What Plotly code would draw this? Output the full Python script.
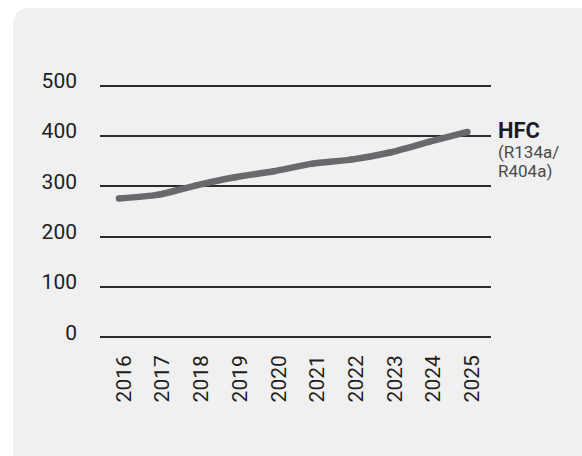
import plotly.graph_objects as go

# Refrigerant demand series (HFC: R134a / R404a)
years = ["2016", "2017", "2018", "2019", "2020", "2021", "2022", "2023", "2024", "2025"]
hfc_values = [276, 283, 302, 318, 330, 345, 353, 367, 388, 408]
y_ticks = [0, 100, 200, 300, 400, 500]
series_name = "HFC"
series_note_lines = ["(R134a/", "R404a)"]

W, H = 582, 456
M_L, M_R, M_T, M_B = 100, 91, 83, 116
PW, PH = W - M_L - M_R, H - M_T - M_B


def px(x):
    return (x - M_L) / PW


def py(y):
    return (H - M_B - y) / PH


def rounded_rect(l, t, r, b, rad):
    return (
        f"M {px(l + rad)} {py(t)} L {px(r - rad)} {py(t)} "
        f"Q {px(r)} {py(t)} {px(r)} {py(t + rad)} "
        f"L {px(r)} {py(b - rad)} Q {px(r)} {py(b)} {px(r - rad)} {py(b)} "
        f"L {px(l + rad)} {py(b)} Q {px(l)} {py(b)} {px(l)} {py(b - rad)} "
        f"L {px(l)} {py(t + rad)} Q {px(l)} {py(t)} {px(l + rad)} {py(t)} Z"
    )


FONT = "Roboto"
LINE_GREY = "#69696d"

fig = go.Figure()
fig.add_trace(
    go.Scatter(
        x=years,
        y=hfc_values,
        mode="lines+markers",
        line=dict(color=LINE_GREY, width=6.5, shape="spline", smoothing=0.6),
        marker=dict(color=LINE_GREY, size=6.5),
        hoverinfo="skip",
        showlegend=False,
    )
)

fig.add_shape(
    type="path",
    xref="paper",
    yref="paper",
    path=rounded_rect(13, 8, 620, 490, 18),
    fillcolor="#f0f0f0",
    line=dict(width=0),
    layer="below",
)

fig.add_annotation(
    x=px(496), y=py(116), xref="paper", yref="paper",
    xanchor="left", yanchor="top", showarrow=False,
    text=f"<b>{series_name}</b>",
    font=dict(family=FONT, size=22, color="#1c1c1c"),
)
for i, line_text in enumerate(series_note_lines):
    fig.add_annotation(
        x=px(496), y=py(140 + 19 * i), xref="paper", yref="paper",
        xanchor="left", yanchor="top", showarrow=False, align="left",
        text=line_text,
        font=dict(family=FONT, size=17, color="#4a4a4a"),
    )

fig.update_layout(
    width=W,
    height=H,
    margin=dict(l=M_L, r=M_R, t=M_T, b=M_B, autoexpand=False),
    paper_bgcolor="white",
    plot_bgcolor="rgba(0,0,0,0)",
    font=dict(family=FONT, color="#1e1e1e"),
)

fig.update_xaxes(
    type="category",
    range=[-0.49, 9.61],
    showgrid=False,
    zeroline=False,
    showline=False,
    tickangle=-90,
    tickfont=dict(family=FONT, size=21, color="#1e1e1e"),
    ticks="",
    ticklabelstandoff=10,
    ticklabelshift=5,
)

fig.update_yaxes(
    range=[-5, 505],
    tickvals=y_ticks,
    showgrid=True,
    gridcolor="#2b2b2b",
    gridwidth=1.5,
    zeroline=False,
    showline=False,
    ticks="",
    tickfont=dict(family=FONT, size=21, color="#1e1e1e"),
    ticklabelstandoff=22,
    ticklabelshift=-5,
)

fig.write_html("out.html")
